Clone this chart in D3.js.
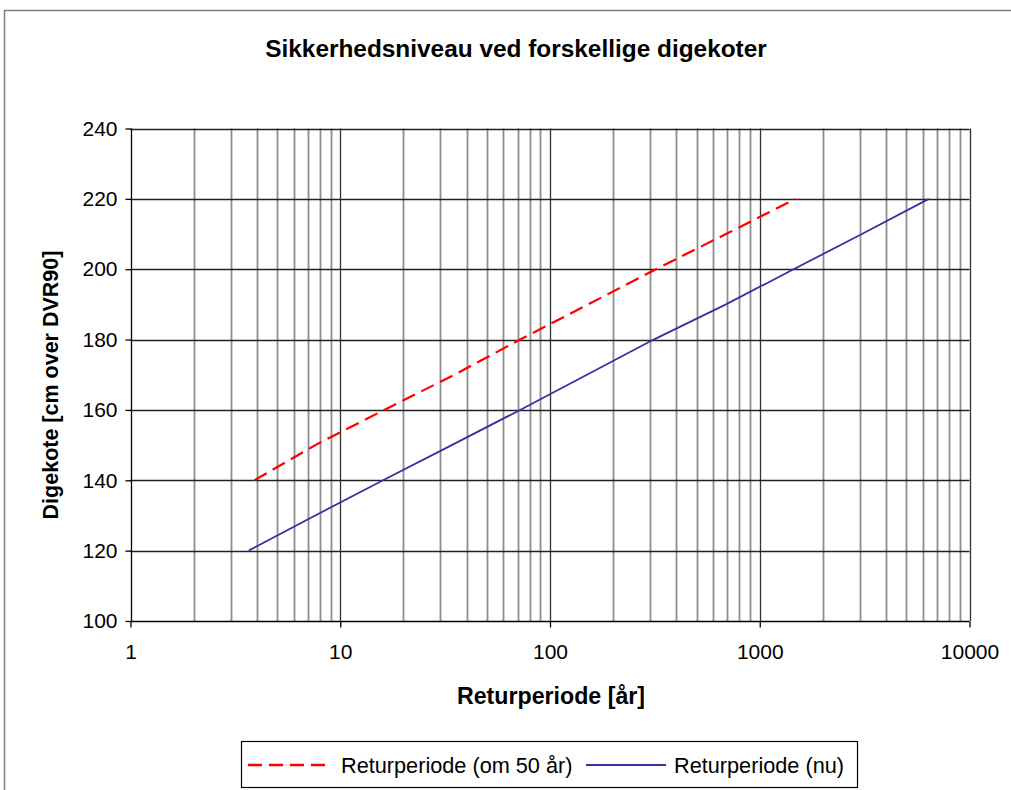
<!DOCTYPE html>
<html>
<head>
<meta charset="utf-8">
<script src="https://cdn.jsdelivr.net/npm/d3@7"></script>
<style>
  html, body { margin: 0; padding: 0; background: #fff; }
  svg { display: block; font-family: "Liberation Sans", Arial, sans-serif; }
</style>
</head>
<body>
<svg id="chart" width="1011" height="790"></svg>
<script>
// ---- Data ----
const chartTitle = "Sikkerhedsniveau ved forskellige digekoter";
const xTitle = "Returperiode [år]";
const yTitle = "Digekote [cm over DVR90]";

const koteFuture   = [140, 150, 160, 170, 180, 190, 200, 210, 220];
const returnFuture = [3.9, 7.6, 16.2, 35, 72, 152, 320, 690, 1480];

const koteNow   = [120, 130, 140, 150, 160, 170, 180, 190, 200, 210, 220];
const returnNow = [3.66, 7.6, 16, 34, 72, 150, 312, 690, 1450, 3070, 6400];

const seriesNames = ["Returperiode (om 50 år)", "Returperiode (nu)"];
const xTickValues = [1, 10, 100, 1000, 10000];
const yTickValues = [100, 120, 140, 160, 180, 200, 220, 240];

// ---- Layout ----
const svg = d3.select("#chart");
const x = d3.scaleLog().domain([1, 10000]).range([130.5, 969.5]);
const y = d3.scaleLinear().domain([100, 240]).range([621, 128.5]);

// outer chart border
svg.append("rect")
  .attr("x", 4.5).attr("y", 10.5)
  .attr("width", 1020).attr("height", 800)
  .attr("fill", "#fff").attr("stroke", "#7f7f7f").attr("stroke-width", 1.5);

// minor vertical gridlines
const minorVals = [];
for (let d = 1; d < 10000; d *= 10) {
  for (let k = 2; k <= 9; k++) minorVals.push(d * k);
}
svg.append("g").selectAll("line").data(minorVals).join("line")
  .attr("x1", d => Math.round(x(d)) + 0.5).attr("x2", d => Math.round(x(d)) + 0.5)
  .attr("y1", y(240)).attr("y2", y(100))
  .attr("stroke", "#8e8e8e").attr("stroke-width", 1.8);

// major vertical gridlines (decades)
svg.append("g").selectAll("line").data(xTickValues.slice(1)).join("line")
  .attr("x1", d => Math.round(x(d)) + 0.5).attr("x2", d => Math.round(x(d)) + 0.5)
  .attr("y1", y(240)).attr("y2", y(100))
  .attr("stroke", "#333").attr("stroke-width", 1.3);

// horizontal gridlines
svg.append("g").selectAll("line").data(yTickValues.slice(1)).join("line")
  .attr("x1", x(1)).attr("x2", x(10000))
  .attr("y1", d => Math.round(y(d)) + 0.5).attr("y2", d => Math.round(y(d)) + 0.5)
  .attr("stroke", "#222").attr("stroke-width", 1.3);

// axes
const xAxis = d3.axisBottom(x).tickValues(xTickValues).tickFormat(d3.format("d"))
  .tickSize(6).tickPadding(17);
const gx = svg.append("g").attr("transform", `translate(0,${Math.round(y(100)) + 0.5})`).call(xAxis);
const yAxis = d3.axisLeft(y).tickValues(yTickValues).tickFormat(d3.format("d"))
  .tickSize(6).tickPadding(8);
const gy = svg.append("g").attr("transform", `translate(${Math.round(x(1)) + 0.5},0)`).call(yAxis);

[gx, gy].forEach(g => {
  g.select(".domain").attr("stroke", "#000").attr("stroke-width", 1.3);
  g.selectAll(".tick line").attr("stroke", "#000").attr("stroke-width", 1.3);
  g.selectAll(".tick text").attr("font-size", 21).attr("fill", "#000")
    .attr("font-family", '"Liberation Sans", Arial, sans-serif');
});
gx.select(".domain").attr("d", `M${x(1)},0H${x(10000)}`);
gy.select(".domain").attr("d", `M0,${y(240)}V${y(100)}`);

// lines
const lineGen = d3.line().x(d => x(d[0])).y(d => y(d[1]));
const futurePts = returnFuture.map((r, i) => [r, koteFuture[i]]);
const nowPts = returnNow.map((r, i) => [r, koteNow[i]]);

svg.append("path").datum(nowPts)
  .attr("d", lineGen).attr("fill", "none")
  .attr("stroke", "#3333a0").attr("stroke-width", 1.8);

svg.append("path").datum(futurePts)
  .attr("d", lineGen).attr("fill", "none")
  .attr("stroke", "#ff0000").attr("stroke-width", 2.2)
  .attr("stroke-dasharray", "14,7");

// title
svg.append("text").text(chartTitle)
  .attr("x", 516).attr("y", 57).attr("text-anchor", "middle")
  .attr("font-weight", "bold").attr("font-size", 24.4);

// x title
svg.append("text").text(xTitle)
  .attr("x", 551).attr("y", 704).attr("text-anchor", "middle")
  .attr("font-weight", "bold").attr("font-size", 23.2);

// y title
svg.append("text").text(yTitle)
  .attr("transform", "translate(58,385) rotate(-90)")
  .attr("text-anchor", "middle")
  .attr("font-weight", "bold").attr("font-size", 21.5);

// legend
const lg = svg.append("g");
lg.append("rect").attr("x", 241.5).attr("y", 741.5).attr("width", 616).attr("height", 46)
  .attr("fill", "#fff").attr("stroke", "#000").attr("stroke-width", 1.2);
lg.append("line").attr("x1", 248).attr("x2", 331).attr("y1", 765).attr("y2", 765)
  .attr("stroke", "#ff0000").attr("stroke-width", 2.6).attr("stroke-dasharray", "14,7");
lg.append("text").text(seriesNames[0]).attr("x", 341).attr("y", 773)
  .attr("font-size", 21.7);
lg.append("line").attr("x1", 586).attr("x2", 666).attr("y1", 765).attr("y2", 765)
  .attr("stroke", "#3333a0").attr("stroke-width", 1.8);
lg.append("text").text(seriesNames[1]).attr("x", 674).attr("y", 773)
  .attr("font-size", 21.7);
</script>
</body>
</html>
